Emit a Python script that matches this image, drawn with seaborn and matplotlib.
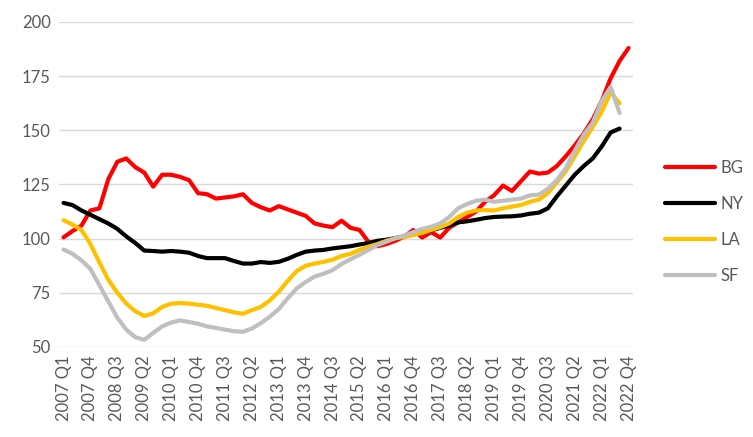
import numpy as np
import pandas as pd
import matplotlib
matplotlib.use("Agg")
import matplotlib.pyplot as plt
import seaborn as sns

# quarterly index values, 2007 Q1 .. 2022 Q4
years = list(range(2007, 2023))
quarters = [f"{y} Q{q}" for y in years for q in range(1, 5)]

bg = [100.6, 103.5, 106, 113, 114, 127.5, 135.5, 137, 133, 130.5,
      124, 129.5, 129.5, 128.5, 127, 121, 120.5, 118.5, 119, 119.5,
      120.5, 116.5, 114.5, 113, 115, 113.5, 112, 110.5, 107, 106,
      105.3, 108.3, 105, 104, 98.5, 96.5, 97.5, 99, 101, 104,
      100.5, 103, 100.5, 105, 107.5, 110, 112.5, 117, 120, 124.5,
      122, 126.5, 131, 130, 130.5, 133.5, 138, 143, 148.5, 155,
      163.5, 174, 182, 188]
ny = [116.5, 115.5, 113, 111, 109, 107, 104.5, 101, 98, 94.5,
      94.3, 94, 94.3, 94, 93.5, 92, 91, 91, 91, 89.7,
      88.5, 88.5, 89.2, 88.8, 89.3, 90.7, 92.5, 94, 94.5, 94.8,
      95.5, 96, 96.5, 97.3, 98, 99, 99.5, 100.3, 101, 102,
      103, 103.8, 105, 106, 107.5, 108, 108.7, 109.5, 110, 110.2,
      110.3, 110.7, 111.5, 112, 114, 119.5, 124.5, 129.5, 133.5, 137,
      142.5, 149, 150.8, np.nan]
la = [108.5, 106.5, 104, 97.5, 89, 81, 75, 70, 66.5, 64.3,
      65.5, 68.5, 70, 70.3, 70, 69.5, 69, 68, 67, 66,
      65.3, 67, 68.5, 71.5, 75.5, 80.5, 85, 87.5, 88.5, 89.3,
      90.3, 92, 93, 94.8, 96.3, 97.5, 99, 100.2, 100.8, 101.7,
      102.7, 104, 105.3, 107, 110, 112, 113, 113.2, 113, 114,
      114.8, 115.5, 117, 118, 121, 126, 131, 138, 145, 151.5,
      158.5, 167.5, 162.5, np.nan]
sf = [95, 93, 90, 86, 78.5, 71, 63.5, 58, 54.5, 53.3,
      56.5, 59.5, 61.3, 62.3, 61.5, 60.7, 59.5, 58.8, 58, 57.3,
      57, 58.5, 61, 64, 67.5, 72.5, 77, 80, 82.5, 83.8,
      85.5, 88.3, 90.5, 92.5, 94.8, 97, 98.6, 100.2, 101.5, 103,
      104.5, 105.5, 107, 110, 114, 116, 117.5, 118, 117, 117.5,
      118, 118.5, 120, 120.3, 123, 127, 132.5, 140.5, 148, 153.5,
      163.5, 170, 158, np.nan]

cities = ["BG", "NY", "LA", "SF"]
colors = ["#FF0000", "#000000", "#FFC000", "#BFBFBF"]
y_ticks = [50, 75, 100, 125, 150, 175, 200]

# long format for seaborn
df = pd.DataFrame({"idx": range(len(quarters)), "BG": bg, "NY": ny, "LA": la, "SF": sf})
long_df = df.melt(id_vars="idx", var_name="city", value_name="value").dropna()

sns.set_theme(style="white")
plt.rcParams["font.family"] = ["Lato", "DejaVu Sans"]

fig = plt.figure(figsize=(7.53, 4.37), dpi=100)
ax = fig.add_axes([0.0784, 0.206, 0.7623, 0.7437])

sns.lineplot(data=long_df, x="idx", y="value", hue="city", hue_order=cities,
             palette=colors, linewidth=3, legend=False, ax=ax,
             solid_capstyle="round", solid_joinstyle="round")

ax.set_xlim(-0.5, len(quarters) - 0.5)
ax.set_ylim(50, 200)
ax.set_yticks(y_ticks)
ax.set_xticks(range(0, len(quarters), 3))
ax.set_xticklabels(quarters[::3], rotation=90)
ax.set_xlabel("")
ax.set_ylabel("")
ax.grid(axis="y", color="#D9D9D9", linewidth=1)
ax.set_axisbelow(True)
for s in ax.spines.values():
    s.set_visible(False)
ax.tick_params(axis="both", length=0, labelsize=12, colors="#595959", pad=6)

handles = ax.get_lines()[:4]
leg = ax.legend(handles, cities, loc="center left", bbox_to_anchor=(1.03, 0.385),
                frameon=False, fontsize=12, handlelength=3, labelspacing=1.2,
                handletextpad=0.3)
for t in leg.get_texts():
    t.set_color("#595959")

fig.savefig("out.png", dpi=100)
